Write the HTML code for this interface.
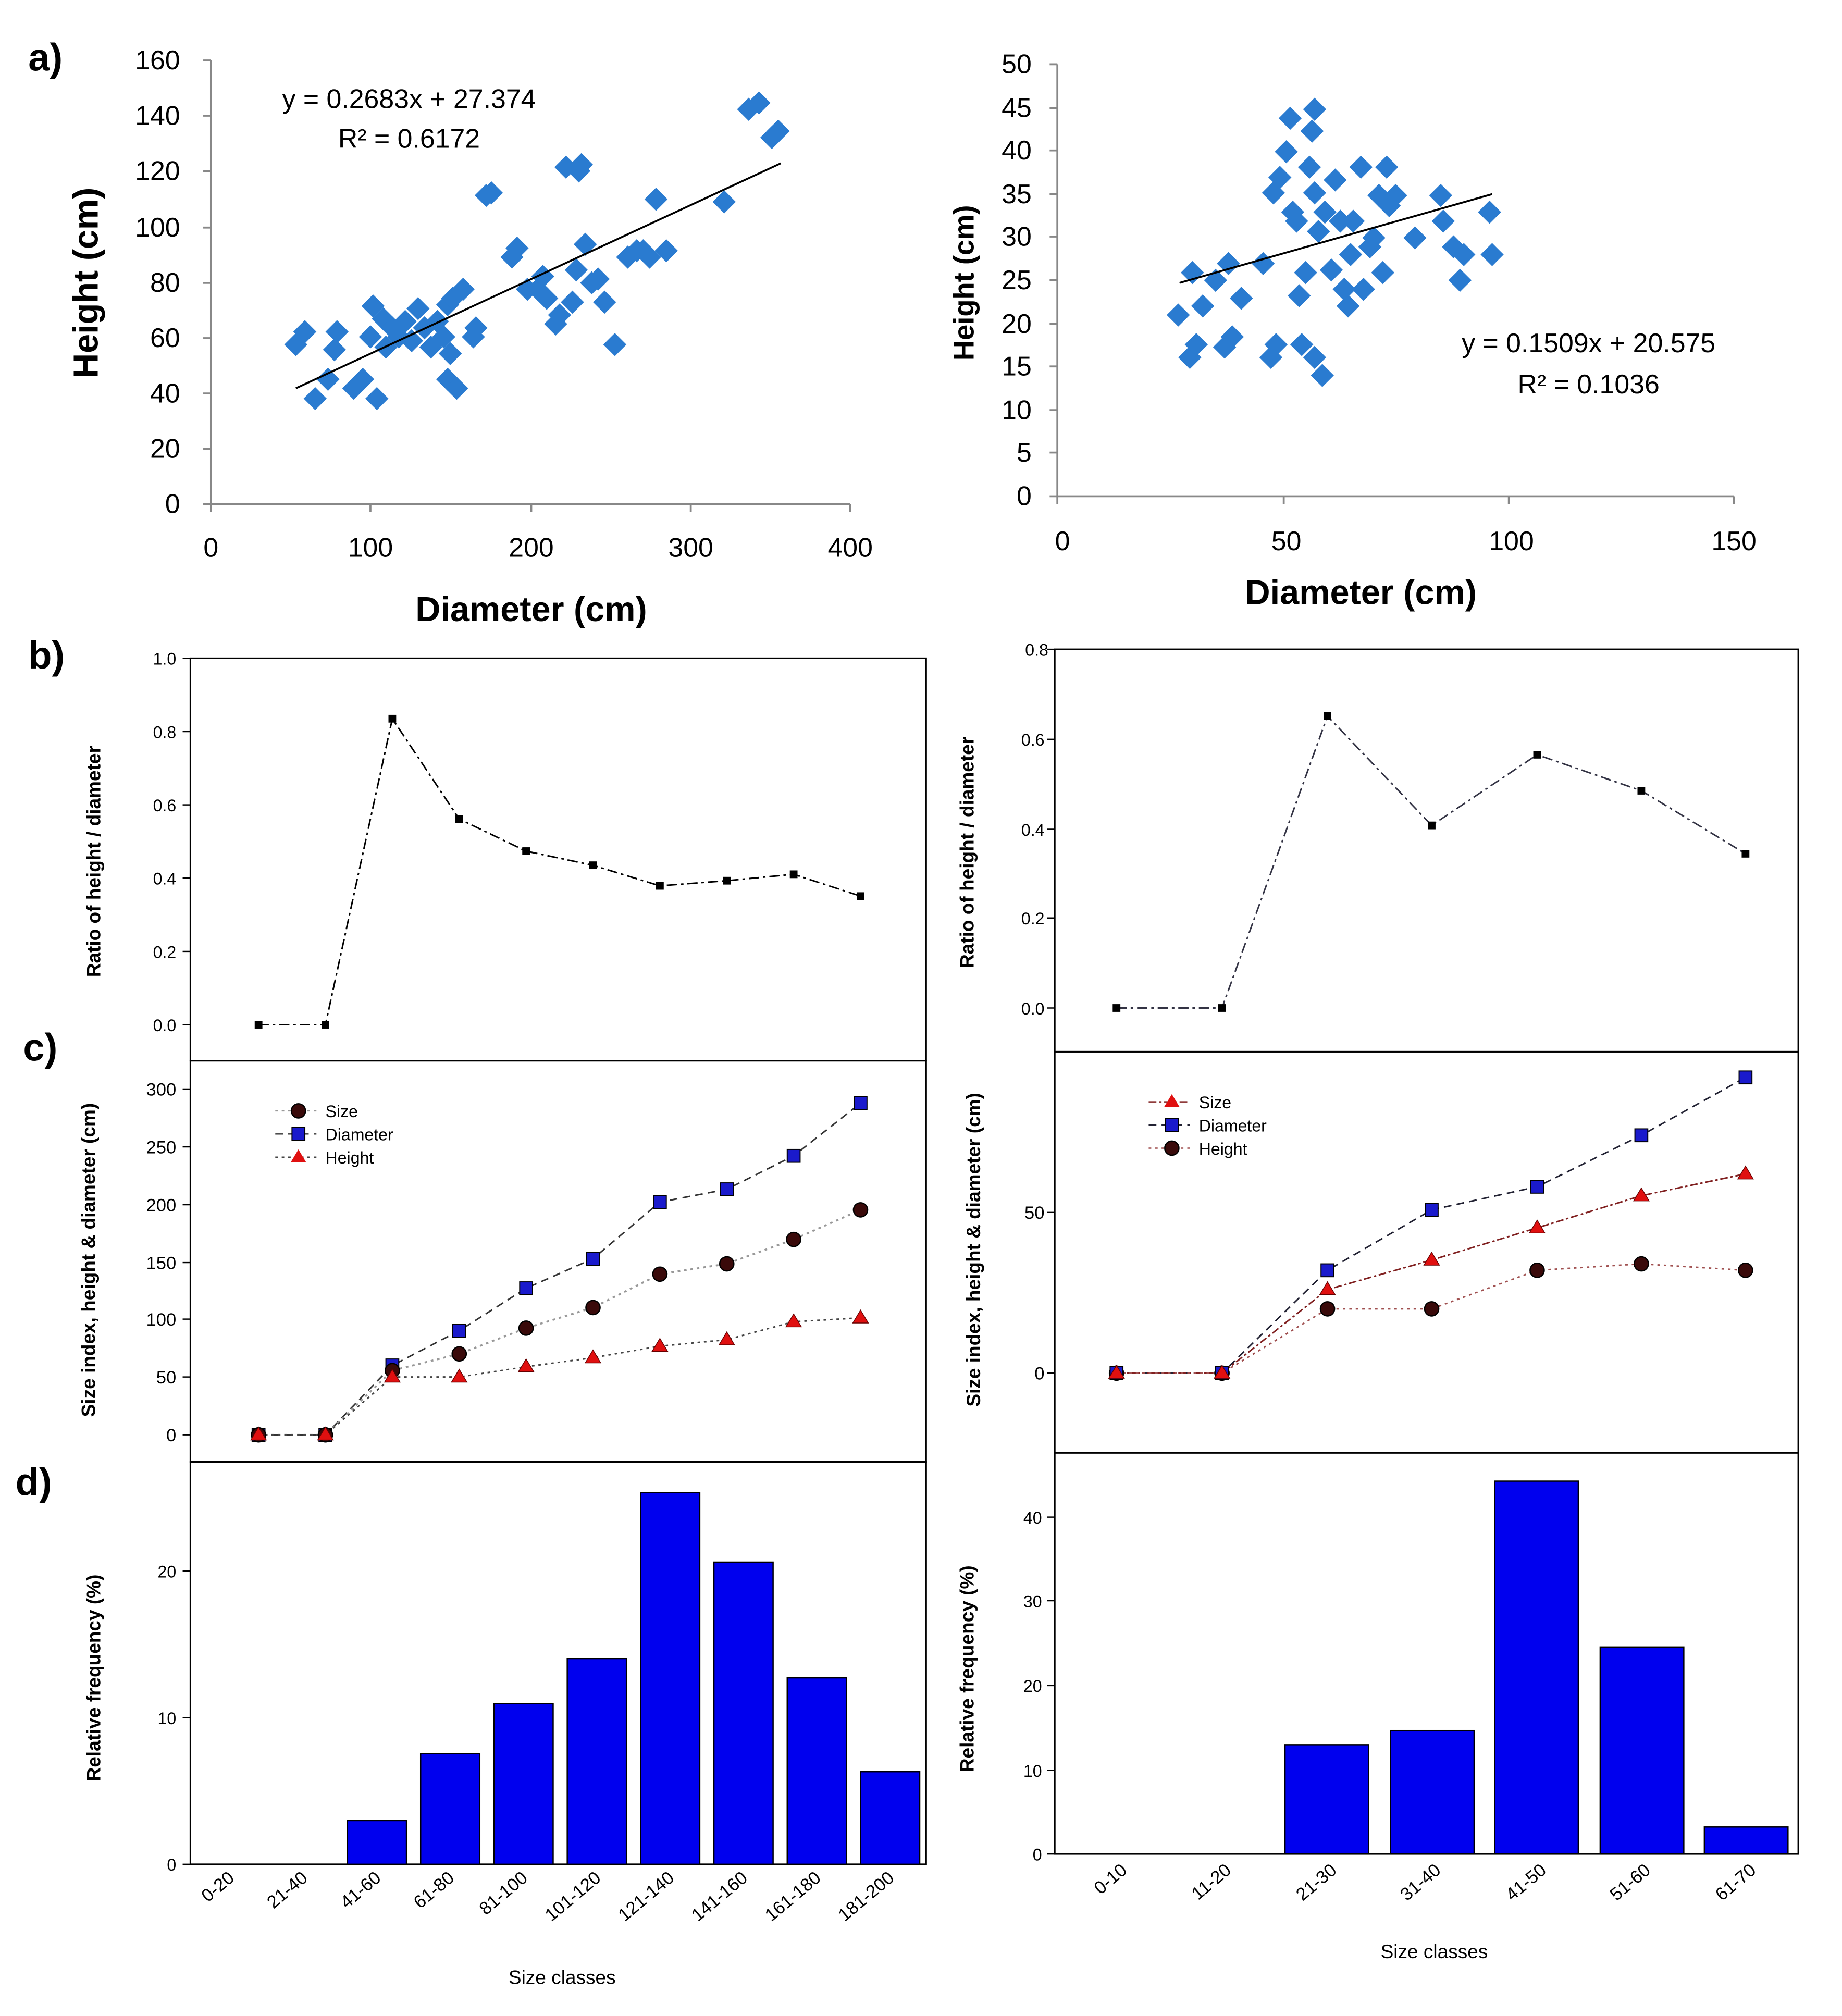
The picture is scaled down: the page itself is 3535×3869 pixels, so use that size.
<!DOCTYPE html>
<html><head><meta charset="utf-8"><style>body{margin:0;background:#fff}svg{display:block}</style></head><body>
<svg xmlns="http://www.w3.org/2000/svg" width="3535" height="3869" viewBox="0 0 1432 1568" preserveAspectRatio="none" font-family="Liberation Sans, Arial, sans-serif">
<rect width="1440" height="1585" fill="#fff"/>
<defs>
<path id="dm" d="M0,-9 L9,0 L0,9 L-9,0Z" fill="#2a7bd0"/>
</defs>
<g font-size="30" font-weight="bold">
<text x="22" y="55">a)</text><text x="22" y="520">b)</text><text x="18" y="825">c)</text><text x="12" y="1163">d)</text></g>

<!-- ===== a left ===== -->
<g stroke="#888" stroke-width="1.5" fill="none"><path d="M164,47V392H661"/>
<path d="M158,47h6M158,90h6M158,133h6M158,177h6M158,220h6M158,263h6M158,306h6M158,349h6M158,392h6M164,392v6M288,392v6M413,392v6M537,392v6M661,392v6"/></g>
<g font-size="21" text-anchor="end"><text x="140" y="54">160</text><text x="140" y="97">140</text><text x="140" y="140">120</text><text x="140" y="184">100</text><text x="140" y="227">80</text><text x="140" y="270">60</text><text x="140" y="313">40</text><text x="140" y="356">20</text><text x="140" y="399">0</text></g>
<g font-size="21" text-anchor="middle"><text x="164" y="433">0</text><text x="288" y="433">100</text><text x="413" y="433">200</text><text x="537" y="433">300</text><text x="661" y="433">400</text></g>
<text x="413" y="483" font-size="27" font-weight="bold" text-anchor="middle">Diameter (cm)</text>
<text transform="translate(76,220) rotate(-90)" font-size="27" font-weight="bold" text-anchor="middle">Height (cm)</text>
<text x="318" y="84" font-size="21" text-anchor="middle">y = 0.2683x + 27.374</text>
<text x="318" y="115" font-size="21" text-anchor="middle">R² = 0.6172</text>
<g>
<use href="#dm" x="230" y="268"/><use href="#dm" x="237" y="258"/><use href="#dm" x="245" y="310"/><use href="#dm" x="255" y="295"/><use href="#dm" x="262" y="258"/><use href="#dm" x="260" y="272"/><use href="#dm" x="275" y="302"/><use href="#dm" x="282" y="295"/><use href="#dm" x="290" y="238"/><use href="#dm" x="293" y="310"/><use href="#dm" x="288" y="262"/><use href="#dm" x="298" y="248"/><use href="#dm" x="300" y="270"/><use href="#dm" x="305" y="255"/><use href="#dm" x="310" y="262"/><use href="#dm" x="315" y="250"/><use href="#dm" x="320" y="265"/><use href="#dm" x="325" y="240"/><use href="#dm" x="330" y="255"/><use href="#dm" x="335" y="270"/><use href="#dm" x="340" y="250"/><use href="#dm" x="345" y="262"/><use href="#dm" x="348" y="237"/><use href="#dm" x="350" y="275"/><use href="#dm" x="348" y="295"/><use href="#dm" x="355" y="302"/><use href="#dm" x="352" y="232"/><use href="#dm" x="360" y="225"/><use href="#dm" x="368" y="262"/><use href="#dm" x="370" y="255"/><use href="#dm" x="378" y="152"/><use href="#dm" x="382" y="150"/><use href="#dm" x="398" y="200"/><use href="#dm" x="402" y="193"/><use href="#dm" x="410" y="225"/><use href="#dm" x="418" y="225"/><use href="#dm" x="422" y="215"/><use href="#dm" x="425" y="232"/><use href="#dm" x="432" y="252"/><use href="#dm" x="435" y="245"/><use href="#dm" x="440" y="130"/><use href="#dm" x="445" y="235"/><use href="#dm" x="450" y="133"/><use href="#dm" x="452" y="128"/><use href="#dm" x="448" y="210"/><use href="#dm" x="455" y="190"/><use href="#dm" x="460" y="220"/><use href="#dm" x="465" y="217"/><use href="#dm" x="470" y="235"/><use href="#dm" x="478" y="268"/><use href="#dm" x="488" y="200"/><use href="#dm" x="495" y="195"/><use href="#dm" x="500" y="195"/><use href="#dm" x="505" y="200"/><use href="#dm" x="510" y="155"/><use href="#dm" x="518" y="195"/><use href="#dm" x="563" y="157"/><use href="#dm" x="582" y="85"/><use href="#dm" x="590" y="80"/><use href="#dm" x="600" y="107"/><use href="#dm" x="605" y="102"/>
</g>
<line x1="230" y1="302" x2="607" y2="127" stroke="#000" stroke-width="1.5"/>

<!-- ===== a right ===== -->
<g stroke="#888" stroke-width="1.5" fill="none"><path d="M822,50V386H1348"/>
<path d="M816,50h6M816,84h6M816,117h6M816,151h6M816,184h6M816,218h6M816,252h6M816,285h6M816,319h6M816,352h6M816,386h6M822,386v6M998,386v6M1173,386v6M1348,386v6"/></g>
<g font-size="21" text-anchor="end"><text x="802" y="57">50</text><text x="802" y="91">45</text><text x="802" y="124">40</text><text x="802" y="158">35</text><text x="802" y="191">30</text><text x="802" y="225">25</text><text x="802" y="259">20</text><text x="802" y="292">15</text><text x="802" y="326">10</text><text x="802" y="359">5</text><text x="802" y="393">0</text></g>
<g font-size="21" text-anchor="middle"><text x="826" y="428">0</text><text x="1000" y="428">50</text><text x="1175" y="428">100</text><text x="1348" y="428">150</text></g>
<text x="1058" y="470" font-size="27" font-weight="bold" text-anchor="middle">Diameter (cm)</text>
<text transform="translate(757,220) rotate(-90)" font-size="22" font-weight="bold" text-anchor="middle">Height (cm)</text>
<text x="1235" y="274" font-size="21" text-anchor="middle">y = 0.1509x + 20.575</text>
<text x="1235" y="306" font-size="21" text-anchor="middle">R² = 0.1036</text>
<g>
<use href="#dm" x="916" y="245"/><use href="#dm" x="925" y="278"/><use href="#dm" x="930" y="268"/><use href="#dm" x="927" y="212"/><use href="#dm" x="935" y="238"/><use href="#dm" x="945" y="218"/><use href="#dm" x="952" y="270"/><use href="#dm" x="958" y="262"/><use href="#dm" x="965" y="232"/><use href="#dm" x="955" y="205"/><use href="#dm" x="982" y="205"/><use href="#dm" x="988" y="278"/><use href="#dm" x="992" y="268"/><use href="#dm" x="990" y="150"/><use href="#dm" x="995" y="138"/><use href="#dm" x="1000" y="118"/><use href="#dm" x="1003" y="92"/><use href="#dm" x="1005" y="165"/><use href="#dm" x="1008" y="172"/><use href="#dm" x="1010" y="230"/><use href="#dm" x="1012" y="268"/><use href="#dm" x="1015" y="212"/><use href="#dm" x="1018" y="130"/><use href="#dm" x="1020" y="102"/><use href="#dm" x="1022" y="85"/><use href="#dm" x="1022" y="150"/><use href="#dm" x="1025" y="180"/><use href="#dm" x="1022" y="278"/><use href="#dm" x="1028" y="292"/><use href="#dm" x="1030" y="165"/><use href="#dm" x="1035" y="210"/><use href="#dm" x="1038" y="140"/><use href="#dm" x="1042" y="172"/><use href="#dm" x="1045" y="225"/><use href="#dm" x="1048" y="238"/><use href="#dm" x="1050" y="198"/><use href="#dm" x="1052" y="172"/><use href="#dm" x="1058" y="130"/><use href="#dm" x="1060" y="225"/><use href="#dm" x="1065" y="192"/><use href="#dm" x="1068" y="185"/><use href="#dm" x="1072" y="152"/><use href="#dm" x="1075" y="212"/><use href="#dm" x="1078" y="130"/><use href="#dm" x="1080" y="160"/><use href="#dm" x="1085" y="152"/><use href="#dm" x="1100" y="185"/><use href="#dm" x="1120" y="152"/><use href="#dm" x="1122" y="172"/><use href="#dm" x="1130" y="192"/><use href="#dm" x="1135" y="218"/><use href="#dm" x="1138" y="198"/><use href="#dm" x="1158" y="165"/><use href="#dm" x="1160" y="198"/>
</g>
<line x1="917" y1="220" x2="1160" y2="151" stroke="#000" stroke-width="1.5"/>

<g stroke="#000" stroke-width="1.2" fill="none">
<rect x="148" y="512" width="572" height="313"/><rect x="148" y="825" width="572" height="312"/><rect x="148" y="1137" width="572" height="313"/>
<rect x="820" y="505" width="578" height="313"/><rect x="820" y="818" width="578" height="312"/><rect x="820" y="1130" width="578" height="312"/>
</g>
<!-- b left -->
<g stroke="#000" stroke-width="1"><path d="M142,512h6M142,569h6M142,626h6M142,683h6M142,740h6M142,797h6"/></g>
<g font-size="13" text-anchor="end"><text x="137" y="517">1.0</text><text x="137" y="574">0.8</text><text x="137" y="631">0.6</text><text x="137" y="688">0.4</text><text x="137" y="745">0.2</text><text x="137" y="802">0.0</text></g>
<text transform="translate(78,670) rotate(-90)" font-size="15" font-weight="bold" text-anchor="middle">Ratio of height / diameter</text>
<polyline fill="none" stroke="#000" stroke-width="1.2" stroke-dasharray="8,3,2,3" points="201,797 253,797 305,559 357,637 409,662 461,673 513,689 565,685 617,680 669,697"/>
<g fill="#000"><rect x="198" y="794" width="6" height="6"/><rect x="250" y="794" width="6" height="6"/><rect x="302" y="556" width="6" height="6"/><rect x="354" y="634" width="6" height="6"/><rect x="406" y="659" width="6" height="6"/><rect x="458" y="670" width="6" height="6"/><rect x="510" y="686" width="6" height="6"/><rect x="562" y="682" width="6" height="6"/><rect x="614" y="677" width="6" height="6"/><rect x="666" y="694" width="6" height="6"/></g>
<!-- b right -->
<g stroke="#000" stroke-width="1"><path d="M814,505h6M814,575h6M814,645h6M814,714h6M814,784h6"/></g>
<g font-size="13" text-anchor="end"><text x="815" y="510">0.8</text><text x="812" y="580">0.6</text><text x="812" y="650">0.4</text><text x="812" y="719">0.2</text><text x="812" y="789">0.0</text></g>
<text transform="translate(757,663) rotate(-90)" font-size="15" font-weight="bold" text-anchor="middle">Ratio of height / diameter</text>
<polyline fill="none" stroke="#334" stroke-width="1.2" stroke-dasharray="8,3,2,3" points="868,784 950,784 1032,557 1113,642 1195,587 1276,615 1357,664"/>
<g fill="#000"><rect x="865" y="781" width="6" height="6"/><rect x="947" y="781" width="6" height="6"/><rect x="1029" y="554" width="6" height="6"/><rect x="1110" y="639" width="6" height="6"/><rect x="1192" y="584" width="6" height="6"/><rect x="1273" y="612" width="6" height="6"/><rect x="1354" y="661" width="6" height="6"/></g>

<!-- c left -->
<g stroke="#000" stroke-width="1"><path d="M142,847h6M142,892h6M142,937h6M142,982h6M142,1026h6M142,1071h6M142,1116h6"/></g>
<g font-size="14" text-anchor="end"><text x="137" y="852">300</text><text x="137" y="897">250</text><text x="137" y="942">200</text><text x="137" y="987">150</text><text x="137" y="1031">100</text><text x="137" y="1076">50</text><text x="137" y="1121">0</text></g>
<text transform="translate(74,980) rotate(-90)" font-size="15" font-weight="bold" text-anchor="middle">Size index, height &amp; diameter (cm)</text>
<polyline fill="none" stroke="#333" stroke-width="1.2" stroke-dasharray="6,4" points="201,1116 253,1116 305,1062 357,1035 409,1002 461,979 513,935 565,925 617,899 669,858"/>
<polyline fill="none" stroke="#999" stroke-width="1.5" stroke-dasharray="2,3" points="201,1116 253,1116 305,1066 357,1053 409,1033 461,1017 513,991 565,983 617,964 669,941"/>
<polyline fill="none" stroke="#444" stroke-width="1.2" stroke-dasharray="2,3" points="201,1116 253,1116 305,1071 357,1071 409,1063 461,1056 513,1047 565,1042 617,1028 669,1025"/>
<g fill="#1a1acc" stroke="#000" stroke-width="0.8"><rect x="196" y="1111" width="10" height="10"/><rect x="248" y="1111" width="10" height="10"/><rect x="300" y="1057" width="10" height="10"/><rect x="352" y="1030" width="10" height="10"/><rect x="404" y="997" width="10" height="10"/><rect x="456" y="974" width="10" height="10"/><rect x="508" y="930" width="10" height="10"/><rect x="560" y="920" width="10" height="10"/><rect x="612" y="894" width="10" height="10"/><rect x="664" y="853" width="10" height="10"/></g>
<g fill="#3a0a0a" stroke="#000"><circle cx="201" cy="1116" r="5.5"/><circle cx="253" cy="1116" r="5.5"/><circle cx="305" cy="1066" r="5.5"/><circle cx="357" cy="1053" r="5.5"/><circle cx="409" cy="1033" r="5.5"/><circle cx="461" cy="1017" r="5.5"/><circle cx="513" cy="991" r="5.5"/><circle cx="565" cy="983" r="5.5"/><circle cx="617" cy="964" r="5.5"/><circle cx="669" cy="941" r="5.5"/></g>
<g fill="#e01010" stroke="#600" stroke-width="0.6"><path d="M201,1110l6,10h-12z"/><path d="M253,1110l6,10h-12z"/><path d="M305,1065l6,10h-12z"/><path d="M357,1065l6,10h-12z"/><path d="M409,1057l6,10h-12z"/><path d="M461,1050l6,10h-12z"/><path d="M513,1041l6,10h-12z"/><path d="M565,1036l6,10h-12z"/><path d="M617,1022l6,10h-12z"/><path d="M669,1019l6,10h-12z"/></g>
<g font-size="13">
<line x1="214" y1="864" x2="246" y2="864" stroke="#999" stroke-dasharray="2,3"/><circle cx="232" cy="864" r="5.5" fill="#3a0a0a" stroke="#000"/><text x="253" y="869">Size</text>
<line x1="214" y1="882" x2="246" y2="882" stroke="#333" stroke-dasharray="6,4"/><rect x="227" y="877" width="10" height="10" fill="#1a1acc" stroke="#000" stroke-width="0.8"/><text x="253" y="887">Diameter</text>
<line x1="214" y1="900" x2="246" y2="900" stroke="#444" stroke-dasharray="2,3"/><path d="M232,894l6,10h-12z" fill="#e01010"/><text x="253" y="905">Height</text></g>

<!-- c right -->
<g stroke="#000" stroke-width="1"><path d="M814,943h6M814,1068h6"/></g>
<g font-size="14" text-anchor="end"><text x="812" y="948">50</text><text x="812" y="1073">0</text></g>
<text transform="translate(762,972) rotate(-90)" font-size="15" font-weight="bold" text-anchor="middle">Size index, height &amp; diameter (cm)</text>
<polyline fill="none" stroke="#223" stroke-width="1.2" stroke-dasharray="6,4" points="868,1068 950,1068 1032,988 1113,941 1195,923 1276,883 1357,838"/>
<polyline fill="none" stroke="#802020" stroke-width="1.2" stroke-dasharray="6,2,2,2" points="868,1068 950,1068 1032,1003 1113,980 1195,955 1276,930 1357,913"/>
<polyline fill="none" stroke="#a05050" stroke-width="1.2" stroke-dasharray="2,3" points="868,1068 950,1068 1032,1018 1113,1018 1195,988 1276,983 1357,988"/>
<g fill="#3a0a0a" stroke="#000"><circle cx="868" cy="1068" r="5.5"/><circle cx="950" cy="1068" r="5.5"/><circle cx="1032" cy="1018" r="5.5"/><circle cx="1113" cy="1018" r="5.5"/><circle cx="1195" cy="988" r="5.5"/><circle cx="1276" cy="983" r="5.5"/><circle cx="1357" cy="988" r="5.5"/></g>
<g fill="#1a1acc" stroke="#000" stroke-width="0.8"><rect x="863" y="1063" width="10" height="10"/><rect x="945" y="1063" width="10" height="10"/><rect x="1027" y="983" width="10" height="10"/><rect x="1108" y="936" width="10" height="10"/><rect x="1190" y="918" width="10" height="10"/><rect x="1271" y="878" width="10" height="10"/><rect x="1352" y="833" width="10" height="10"/></g>
<g fill="#e01010" stroke="#600" stroke-width="0.6"><path d="M868,1062l6,10h-12z"/><path d="M950,1062l6,10h-12z"/><path d="M1032,997l6,10h-12z"/><path d="M1113,974l6,10h-12z"/><path d="M1195,949l6,10h-12z"/><path d="M1276,924l6,10h-12z"/><path d="M1357,907l6,10h-12z"/></g>
<g font-size="13">
<line x1="893" y1="857" x2="925" y2="857" stroke="#802020" stroke-dasharray="6,2,2,2"/><path d="M911,851l6,10h-12z" fill="#e01010"/><text x="932" y="862">Size</text>
<line x1="893" y1="875" x2="925" y2="875" stroke="#223" stroke-dasharray="6,4"/><rect x="906" y="870" width="10" height="10" fill="#1a1acc" stroke="#000" stroke-width="0.8"/><text x="932" y="880">Diameter</text>
<line x1="893" y1="893" x2="925" y2="893" stroke="#a05050" stroke-dasharray="2,3"/><circle cx="911" cy="893" r="5.5" fill="#3a0a0a" stroke="#000"/><text x="932" y="898">Height</text></g>

<!-- d left -->
<g stroke="#000" stroke-width="1"><path d="M142,1222h6M142,1336h6M142,1450h6"/></g>
<g font-size="13" text-anchor="end"><text x="137" y="1227">20</text><text x="137" y="1341">10</text><text x="137" y="1455">0</text></g>
<text transform="translate(78,1305) rotate(-90)" font-size="15" font-weight="bold" text-anchor="middle">Relative frequency (%)</text>
<g fill="#0000ee" stroke="#000" stroke-width="1">
<rect x="270" y="1416" width="46" height="34"/><rect x="327" y="1364" width="46" height="86"/><rect x="384" y="1325" width="46" height="125"/><rect x="441" y="1290" width="46" height="160"/><rect x="498" y="1161" width="46" height="289"/><rect x="555" y="1215" width="46" height="235"/><rect x="612" y="1305" width="46" height="145"/><rect x="669" y="1378" width="46" height="72"/></g>
<g font-size="14" text-anchor="end">
<text transform="translate(183,1462) rotate(-40)">0-20</text><text transform="translate(240,1462) rotate(-40)">21-40</text><text transform="translate(297,1462) rotate(-40)">41-60</text><text transform="translate(354,1462) rotate(-40)">61-80</text><text transform="translate(411,1462) rotate(-40)">81-100</text><text transform="translate(468,1462) rotate(-40)">101-120</text><text transform="translate(525,1462) rotate(-40)">121-140</text><text transform="translate(582,1462) rotate(-40)">141-160</text><text transform="translate(639,1462) rotate(-40)">161-180</text><text transform="translate(696,1462) rotate(-40)">181-200</text></g>
<text x="437" y="1543" font-size="15" text-anchor="middle">Size classes</text>

<!-- d right -->
<g stroke="#000" stroke-width="1"><path d="M814,1180h6M814,1245h6M814,1311h6M814,1377h6M814,1442h6"/></g>
<g font-size="13" text-anchor="end"><text x="810" y="1185">40</text><text x="810" y="1250">30</text><text x="810" y="1316">20</text><text x="810" y="1382">10</text><text x="810" y="1447">0</text></g>
<text transform="translate(757,1298) rotate(-90)" font-size="15" font-weight="bold" text-anchor="middle">Relative frequency (%)</text>
<g fill="#0000ee" stroke="#000" stroke-width="1">
<rect x="999" y="1357" width="65" height="85"/><rect x="1081" y="1346" width="65" height="96"/><rect x="1162" y="1152" width="65" height="290"/><rect x="1244" y="1281" width="65" height="161"/><rect x="1325" y="1421" width="65" height="21"/></g>
<g font-size="14" text-anchor="end">
<text transform="translate(877,1456) rotate(-40)">0-10</text><text transform="translate(958,1456) rotate(-40)">11-20</text><text transform="translate(1040,1456) rotate(-40)">21-30</text><text transform="translate(1121,1456) rotate(-40)">31-40</text><text transform="translate(1203,1456) rotate(-40)">41-50</text><text transform="translate(1284,1456) rotate(-40)">51-60</text><text transform="translate(1366,1456) rotate(-40)">61-70</text></g>
<text x="1115" y="1523" font-size="15" text-anchor="middle">Size classes</text>
</svg>
</body></html>
